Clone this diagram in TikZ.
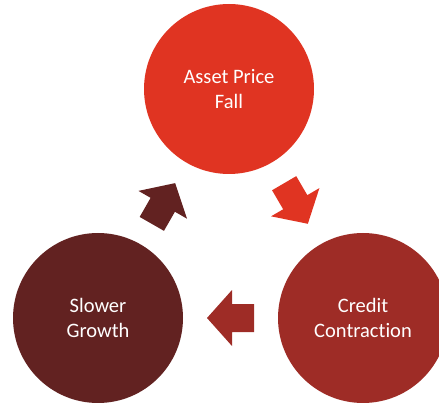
\documentclass[tikz,border=0pt]{standalone}
\usepackage{fontspec}
\setmainfont{Carlito}[Ligatures={NoCommon}]
\usetikzlibrary{calc}
\definecolor{topred}{HTML}{E03422}
\definecolor{midred}{HTML}{9E2C26}
\definecolor{darkred}{HTML}{622221}
\tikzset{
  bubble/.style={circle, minimum size=170pt, inner sep=0pt, text=white, align=center,
    font=\fontsize{20.5}{24.5}\selectfont},
  blockarrow/.pic={\fill[#1] (23.5,0) -- (-1.5,28) -- (-1.5,14) -- (-23.5,14) -- (-23.5,-14) -- (-1.5,-14) -- (-1.5,-28) -- cycle;}
}
\begin{document}
\begin{tikzpicture}[x=1pt,y=1pt]
\useasboundingbox (0,0) rectangle (439,402);
\clip (0,0) rectangle (439,402);
\node[bubble, fill=topred] (apf) at (229,313) {Asset Price\\Fall};
\node[bubble, fill=midred] (cc) at (363,84) {Credit\\Contraction};
\node[bubble, fill=darkred] (sg) at (98,84) {Slower\\Growth};
\coordinate (m1) at ($(apf)!0.5!(cc)$);
\coordinate (m2) at ($(cc)!0.5!(sg)$);
\coordinate (m3) at ($(sg)!0.5!(apf)$);
\pic[rotate=-59.7] at (m1) {blockarrow=topred};
\pic[rotate=180] at (m2) {blockarrow=midred};
\pic[rotate=60.2] at (m3) {blockarrow=darkred};
\end{tikzpicture}
\end{document}
